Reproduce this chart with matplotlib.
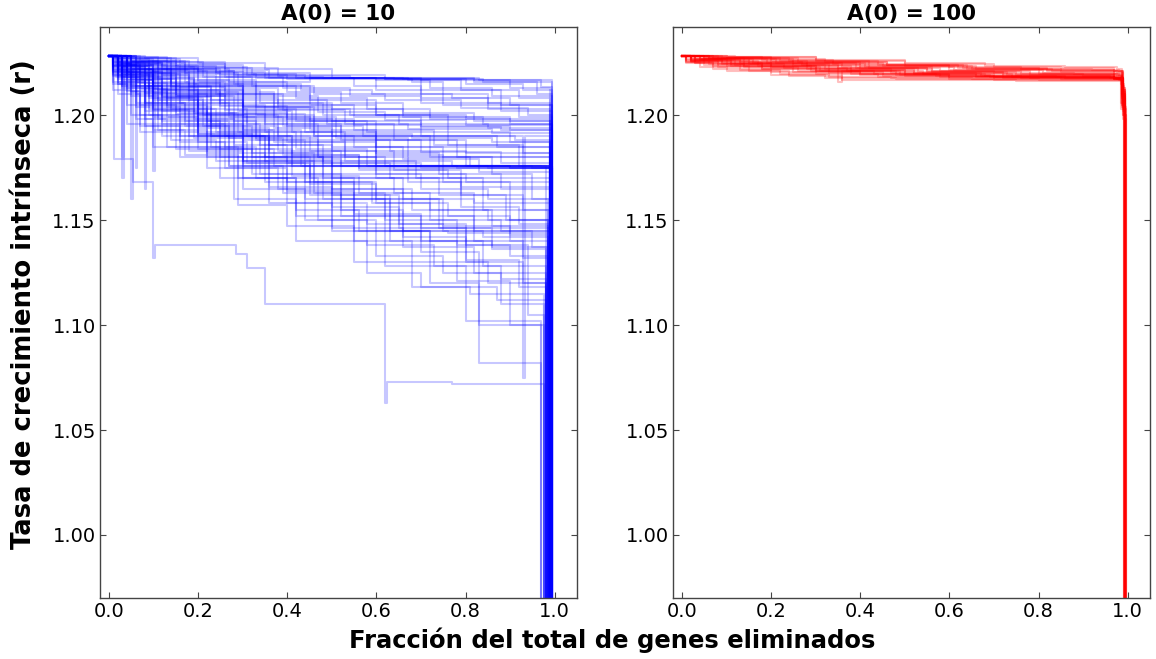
import matplotlib
matplotlib.use("Agg")
import matplotlib.pyplot as plt

# ---------------- data ----------------
titles = ["A(0) = 10", "A(0) = 100"]
x_label = "Fracción del total de genes eliminados"
y_label = "Tasa de crecimiento intrínseca (r)"
x_ticks = [0.0, 0.2, 0.4, 0.6, 0.8, 1.0]
y_ticks = [1.00, 1.05, 1.10, 1.15, 1.20]

# A(0) = 10 : step traces, (fraction removed, r) breakpoints; last point is the final collapse
blue_traces = [
    [(0, 1.228), (0.08, 1.227), (0.2, 1.225), (0.35, 1.222), (0.5, 1.219), (0.62, 1.217), (0.82, 1.216), (0.96, 1.210), (0.995, 0.95)],
    [(0, 1.228), (0.05, 1.226), (0.15, 1.224), (0.3, 1.220), (0.45, 1.2175), (0.65, 1.2175), (0.83, 1.2165), (0.9, 1.213), (0.99, 0.95)],
    [(0, 1.228), (0.03, 1.225), (0.12, 1.222), (0.25, 1.219), (0.4, 1.217), (0.68, 1.216), (0.75, 1.212), (0.88, 1.205), (0.995, 0.95)],
    [(0, 1.228), (0.02, 1.224), (0.1, 1.221), (0.22, 1.218), (0.35, 1.2175), (0.55, 1.214), (0.7, 1.208), (0.85, 1.203), (0.99, 0.95)],
    [(0, 1.228), (0.01, 1.222), (0.03, 1.170), (0.034, 1.219), (0.18, 1.214), (0.3, 1.210), (0.45, 1.205), (0.6, 1.200), (0.8, 1.198), (0.99, 0.95)],
    [(0, 1.228), (0.02, 1.220), (0.1, 1.215), (0.2, 1.209), (0.33, 1.204), (0.5, 1.197), (0.7, 1.195), (0.9, 1.193), (0.995, 0.95)],
    [(0, 1.228), (0.04, 1.221), (0.12, 1.212), (0.25, 1.200), (0.38, 1.190), (0.55, 1.185), (0.75, 1.180), (0.92, 1.176), (0.99, 0.95)],
    [(0, 1.228), (0.015, 1.218), (0.07, 1.205), (0.15, 1.196), (0.26, 1.185), (0.3, 1.176), (0.6, 1.176), (0.85, 1.175), (0.995, 0.95)],
    [(0, 1.228), (0.03, 1.216), (0.09, 1.208), (0.2, 1.198), (0.28, 1.186), (0.4, 1.177), (0.7, 1.175), (0.98, 0.95)],
    [(0, 1.228), (0.02, 1.223), (0.08, 1.214), (0.16, 1.206), (0.3, 1.199), (0.45, 1.193), (0.6, 1.188), (0.8, 1.182), (0.99, 0.95)],
    [(0, 1.228), (0.01, 1.225), (0.05, 1.217), (0.14, 1.203), (0.24, 1.192), (0.36, 1.182), (0.5, 1.172), (0.7, 1.165), (0.85, 1.160), (0.985, 0.95)],
    [(0, 1.228), (0.02, 1.219), (0.11, 1.207), (0.21, 1.195), (0.32, 1.182), (0.46, 1.168), (0.6, 1.158), (0.72, 1.150), (0.88, 1.145), (0.99, 0.95)],
    [(0, 1.228), (0.03, 1.222), (0.1, 1.211), (0.19, 1.201), (0.29, 1.192), (0.42, 1.184), (0.58, 1.176), (0.78, 1.175), (0.995, 0.95)],
    [(0, 1.228), (0.04, 1.218), (0.13, 1.204), (0.23, 1.190), (0.35, 1.178), (0.5, 1.165), (0.66, 1.152), (0.82, 1.140), (0.93, 1.132), (0.985, 0.95)],
    [(0, 1.228), (0.01, 1.212), (0.05, 1.200), (0.12, 1.190), (0.22, 1.180), (0.34, 1.172), (0.52, 1.160), (0.74, 1.146), (0.99, 0.95)],
    [(0, 1.228), (0.02, 1.215), (0.06, 1.206), (0.17, 1.197), (0.27, 1.189), (0.39, 1.181), (0.56, 1.174), (0.76, 1.170), (0.99, 0.95)],
    [(0, 1.228), (0.05, 1.224), (0.13, 1.218), (0.22, 1.212), (0.34, 1.206), (0.48, 1.200), (0.65, 1.196), (0.85, 1.194), (0.995, 0.95)],
    [(0, 1.228), (0.03, 1.227), (0.14, 1.222), (0.27, 1.216), (0.4, 1.211), (0.52, 1.206), (0.66, 1.201), (0.82, 1.197), (0.99, 0.95)],
    [(0, 1.228), (0.06, 1.225), (0.17, 1.220), (0.29, 1.214), (0.42, 1.208), (0.58, 1.203), (0.72, 1.199), (0.9, 1.196), (0.995, 0.95)],
    [(0, 1.228), (0.01, 1.223), (0.04, 1.213), (0.09, 1.200), (0.16, 1.187), (0.26, 1.175), (0.4, 1.164), (0.55, 1.153), (0.7, 1.146), (0.86, 1.137), (0.98, 0.95)],
    [(0, 1.228), (0.012, 1.179), (0.054, 1.168), (0.10, 1.132), (0.103, 1.138), (0.286, 1.134), (0.31, 1.127), (0.35, 1.110), (0.62, 1.063), (0.623, 1.073), (0.77, 1.072), (0.975, 0.95)],
    [(0, 1.228), (0.02, 1.210), (0.07, 1.192), (0.18, 1.183), (0.3, 1.170), (0.42, 1.152), (0.55, 1.140), (0.68, 1.130), (0.85, 1.120), (0.98, 0.95)],
    [(0, 1.228), (0.03, 1.214), (0.12, 1.196), (0.3, 1.178), (0.44, 1.160), (0.62, 1.128), (0.8, 1.102), (0.97, 0.95)],
    [(0, 1.228), (0.02, 1.217), (0.08, 1.202), (0.2, 1.190), (0.36, 1.158), (0.5, 1.145), (0.72, 1.120), (0.83, 1.082), (0.97, 0.95)],
    [(0, 1.228), (0.04, 1.220), (0.15, 1.209), (0.28, 1.197), (0.4, 1.187), (0.6, 1.176), (0.9, 1.175), (0.995, 0.95)],
    [(0, 1.228), (0.02, 1.226), (0.11, 1.220), (0.25, 1.213), (0.38, 1.205), (0.55, 1.199), (0.7, 1.190), (0.87, 1.185), (0.99, 0.95)],
    [(0, 1.228), (0.01, 1.219), (0.06, 1.210), (0.14, 1.200), (0.25, 1.193), (0.37, 1.187), (0.53, 1.178), (0.69, 1.170), (0.84, 1.155), (0.985, 0.95)],
    [(0, 1.228), (0.05, 1.222), (0.16, 1.214), (0.3, 1.204), (0.46, 1.190), (0.6, 1.181), (0.75, 1.168), (0.9, 1.150), (0.99, 0.95)],
    [(0, 1.228), (0.03, 1.218), (0.1, 1.205), (0.23, 1.185), (0.33, 1.170), (0.47, 1.150), (0.6, 1.133), (0.75, 1.125), (0.88, 1.110), (0.975, 0.95)],
    [(0, 1.228), (0.02, 1.221), (0.09, 1.213), (0.2, 1.203), (0.31, 1.196), (0.47, 1.188), (0.63, 1.183), (0.8, 1.176), (0.995, 0.95)],
    [(0, 1.228), (0.01, 1.216), (0.08, 1.198), (0.1, 1.185), (0.25, 1.170), (0.4, 1.158), (0.58, 1.148), (0.75, 1.145), (0.99, 0.95)],
    [(0, 1.228), (0.04, 1.224), (0.1, 1.216), (0.18, 1.207), (0.3, 1.193), (0.43, 1.176), (0.9, 1.175), (0.99, 0.95)],
    [(0, 1.228), (0.07, 1.226), (0.18, 1.223), (0.31, 1.219), (0.44, 1.2175), (0.6, 1.212), (0.75, 1.205), (0.92, 1.199), (0.995, 0.95)],
    [(0, 1.228), (0.02, 1.224), (0.07, 1.217), (0.15, 1.210), (0.27, 1.201), (0.4, 1.195), (0.57, 1.190), (0.73, 1.186), (0.92, 1.180), (0.99, 0.95)],
    [(0, 1.228), (0.03, 1.213), (0.11, 1.193), (0.22, 1.175), (0.38, 1.165), (0.52, 1.155), (0.66, 1.142), (0.8, 1.130), (0.93, 1.120), (0.98, 0.95)],
    [(0, 1.228), (0.01, 1.221), (0.05, 1.211), (0.13, 1.199), (0.2, 1.191), (0.32, 1.180), (0.48, 1.170), (0.64, 1.163), (0.82, 1.158), (0.99, 0.95)],
    [(0, 1.228), (0.04, 1.225), (0.12, 1.219), (0.24, 1.210), (0.37, 1.199), (0.51, 1.189), (0.67, 1.180), (0.81, 1.176), (0.995, 0.95)],
    [(0, 1.228), (0.02, 1.222), (0.1, 1.203), (0.22, 1.182), (0.35, 1.168), (0.5, 1.146), (0.66, 1.137), (0.82, 1.125), (0.98, 0.95)],
    [(0, 1.228), (0.05, 1.227), (0.15, 1.223), (0.26, 1.218), (0.39, 1.213), (0.54, 1.209), (0.7, 1.206), (0.88, 1.202), (0.995, 0.95)],
    [(0, 1.228), (0.03, 1.220), (0.09, 1.209), (0.2, 1.194), (0.36, 1.186), (0.5, 1.176), (0.95, 1.175), (0.995, 0.95)],
    [(0, 1.228), (0.01, 1.224), (0.06, 1.214), (0.16, 1.201), (0.28, 1.184), (0.41, 1.171), (0.56, 1.163), (0.72, 1.155), (0.86, 1.147), (0.985, 0.95)],
    [(0, 1.228), (0.02, 1.218), (0.08, 1.195), (0.27, 1.176), (0.45, 1.162), (0.63, 1.140), (0.78, 1.121), (0.9, 1.100), (0.975, 0.95)],
    [(0, 1.228), (0.06, 1.223), (0.19, 1.215), (0.33, 1.207), (0.49, 1.196), (0.64, 1.188), (0.78, 1.185), (0.99, 0.95)],
    [(0, 1.228), (0.03, 1.226), (0.13, 1.221), (0.28, 1.215), (0.43, 1.212), (0.59, 1.210), (0.77, 1.208), (0.9, 1.205), (0.995, 0.95)],
    [(0, 1.228), (0.01, 1.215), (0.04, 1.196), (0.15, 1.184), (0.28, 1.160), (0.42, 1.140), (0.58, 1.125), (0.7, 1.118), (0.87, 1.112), (0.98, 0.95)],
    [(0, 1.228), (0.02, 1.225), (0.05, 1.160), (0.053, 1.222), (0.2, 1.216), (0.45, 1.2175), (0.7, 1.2165), (0.995, 0.95)],
    [(0, 1.228), (0.03, 1.223), (0.08, 1.165), (0.083, 1.214), (0.3, 1.198), (0.5, 1.190), (0.93, 1.075), (0.933, 1.190), (0.99, 0.95)],
    [(0, 1.228), (0.04, 1.222), (0.14, 1.210), (0.26, 1.190), (0.41, 1.176), (0.98, 1.175), (0.992, 0.95)],
    [(0, 1.228), (0.03, 1.2265), (0.09, 1.224), (0.16, 1.222), (0.24, 1.2195), (0.33, 1.2178), (0.5, 1.2175), (0.64, 1.2172), (0.8, 1.215), (0.93, 1.212), (0.995, 0.95)],
    [(0, 1.228), (0.02, 1.227), (0.06, 1.2255), (0.12, 1.2235), (0.2, 1.221), (0.28, 1.219), (0.36, 1.2177), (0.62, 1.2174), (0.7, 1.210), (0.85, 1.206), (0.99, 0.95)],
    [(0, 1.228), (0.01, 1.226), (0.04, 1.2235), (0.09, 1.2205), (0.17, 1.216), (0.26, 1.211), (0.37, 1.206), (0.5, 1.203), (0.66, 1.199), (0.84, 1.196), (0.995, 0.95)],
    [(0, 1.228), (0.015, 1.2245), (0.05, 1.219), (0.1, 1.2125), (0.18, 1.206), (0.27, 1.199), (0.39, 1.195), (0.52, 1.191), (0.68, 1.189), (0.86, 1.187), (0.99, 0.95)],
    [(0, 1.228), (0.02, 1.2215), (0.06, 1.2155), (0.13, 1.208), (0.21, 1.200), (0.31, 1.190), (0.45, 1.183), (0.6, 1.178), (0.77, 1.176), (0.995, 0.95)],
    [(0, 1.228), (0.01, 1.2205), (0.03, 1.214), (0.08, 1.206), (0.17, 1.195), (0.25, 1.184), (0.37, 1.176), (0.99, 0.95)],
    [(0, 1.228), (0.025, 1.225), (0.07, 1.220), (0.14, 1.2135), (0.23, 1.207), (0.33, 1.200), (0.46, 1.190), (0.6, 1.182), (0.74, 1.172), (0.88, 1.165), (0.99, 0.95)],
    [(0, 1.228), (0.03, 1.2235), (0.1, 1.2175), (0.19, 1.211), (0.29, 1.202), (0.41, 1.192), (0.53, 1.180), (0.67, 1.168), (0.79, 1.156), (0.92, 1.148), (0.985, 0.95)],
    [(0, 1.228), (0.01, 1.2195), (0.05, 1.209), (0.11, 1.198), (0.2, 1.187), (0.31, 1.177), (0.44, 1.168), (0.59, 1.158), (0.76, 1.152), (0.9, 1.143), (0.985, 0.95)],
    [(0, 1.228), (0.02, 1.216), (0.07, 1.200), (0.14, 1.188), (0.24, 1.178), (0.36, 1.166), (0.5, 1.156), (0.65, 1.146), (0.8, 1.138), (0.94, 1.128), (0.98, 0.95)],
    [(0, 1.228), (0.04, 1.2205), (0.12, 1.2085), (0.23, 1.196), (0.34, 1.186), (0.48, 1.177), (0.63, 1.170), (0.79, 1.166), (0.99, 0.95)],
    [(0, 1.228), (0.01, 1.2235), (0.04, 1.2165), (0.1, 1.208), (0.19, 1.198), (0.3, 1.188), (0.44, 1.178), (0.6, 1.172), (0.8, 1.168), (0.99, 0.95)],
    [(0, 1.228), (0.05, 1.2255), (0.11, 1.222), (0.21, 1.218), (0.32, 1.214), (0.46, 1.210), (0.62, 1.207), (0.79, 1.2035), (0.94, 1.200), (0.995, 0.95)],
    [(0, 1.228), (0.03, 1.2275), (0.11, 1.2255), (0.21, 1.2225), (0.32, 1.2195), (0.42, 1.2176), (0.66, 1.2172), (0.84, 1.216), (0.995, 0.95)],
    [(0, 1.228), (0.02, 1.2245), (0.08, 1.2195), (0.16, 1.2135), (0.26, 1.208), (0.38, 1.203), (0.54, 1.200), (0.72, 1.198), (0.9, 1.197), (0.995, 0.95)],
    [(0, 1.228), (0.01, 1.2185), (0.04, 1.205), (0.1, 1.193), (0.17, 1.181), (0.29, 1.170), (0.42, 1.155), (0.56, 1.145), (0.72, 1.140), (0.86, 1.136), (0.98, 0.95)],
    [(0, 1.228), (0.03, 1.2195), (0.08, 1.2105), (0.15, 1.2005), (0.23, 1.190), (0.36, 1.179), (0.52, 1.165), (0.68, 1.155), (0.85, 1.150), (0.985, 0.95)],
    [(0, 1.228), (0.02, 1.2225), (0.07, 1.2125), (0.13, 1.205), (0.22, 1.197), (0.33, 1.188), (0.47, 1.180), (0.62, 1.176), (0.995, 0.95)],
    [(0, 1.228), (0.01, 1.2255), (0.03, 1.2205), (0.07, 1.2155), (0.15, 1.209), (0.26, 1.2025), (0.4, 1.197), (0.55, 1.193), (0.73, 1.190), (0.91, 1.188), (0.99, 0.95)],
    [(0, 1.228), (0.04, 1.219), (0.09, 1.203), (0.19, 1.189), (0.3, 1.180), (0.45, 1.170), (0.55, 1.145), (0.7, 1.135), (0.83, 1.100), (0.97, 0.95)],
    [(0, 1.228), (0.02, 1.215), (0.06, 1.198), (0.13, 1.185), (0.29, 1.157), (0.4, 1.147), (0.55, 1.130), (0.68, 1.118), (0.81, 1.115), (0.975, 0.95)],
    [(0, 1.228), (0.03, 1.2215), (0.1, 1.207), (0.2, 1.191), (0.34, 1.180), (0.48, 1.160), (0.63, 1.145), (0.76, 1.144), (0.99, 0.95)],
    [(0, 1.228), (0.01, 1.227), (0.05, 1.2255), (0.14, 1.2235), (0.24, 1.2205), (0.35, 1.2180), (0.48, 1.2176), (0.6, 1.2165), (0.72, 1.213), (0.86, 1.209), (0.995, 0.95)],
    [(0, 1.228), (0.06, 1.2268), (0.16, 1.2245), (0.26, 1.2215), (0.36, 1.219), (0.5, 1.2178), (0.72, 1.2176), (0.82, 1.2165), (0.97, 1.2135), (0.995, 0.95)],
    [(0, 1.228), (0.02, 1.2255), (0.09, 1.2215), (0.18, 1.2165), (0.27, 1.210), (0.39, 1.2025), (0.53, 1.196), (0.67, 1.1935), (0.86, 1.1915), (0.995, 0.95)],
    [(0, 1.228), (0.01, 1.224), (0.06, 1.2165), (0.12, 1.209), (0.2, 1.200), (0.3, 1.190), (0.41, 1.181), (0.56, 1.175), (0.99, 0.95)],
    [(0, 1.228), (0.03, 1.2205), (0.11, 1.212), (0.22, 1.2005), (0.35, 1.192), (0.5, 1.185), (0.66, 1.179), (0.83, 1.173), (0.99, 0.95)],
    [(0, 1.228), (0.02, 1.219), (0.05, 1.2115), (0.1, 1.2025), (0.18, 1.190), (0.27, 1.176), (0.39, 1.163), (0.52, 1.152), (0.66, 1.145), (0.84, 1.142), (0.985, 0.95)],
    [(0, 1.228), (0.05, 1.2235), (0.14, 1.2155), (0.25, 1.206), (0.37, 1.194), (0.5, 1.183), (0.64, 1.174), (0.79, 1.162), (0.93, 1.155), (0.99, 0.95)],
    [(0, 1.228), (0.01, 1.2215), (0.04, 1.2115), (0.07, 1.195), (0.16, 1.180), (0.3, 1.165), (0.44, 1.150), (0.58, 1.138), (0.73, 1.128), (0.88, 1.122), (0.98, 0.95)],
    [(0, 1.228), (0.04, 1.2275), (0.13, 1.2255), (0.26, 1.2225), (0.38, 1.2185), (0.54, 1.2177), (0.67, 1.2165), (0.79, 1.212), (0.92, 1.208), (0.99, 0.95)],
    [(0, 1.228), (0.02, 1.2235), (0.07, 1.2185), (0.15, 1.211), (0.25, 1.2045), (0.4, 1.198), (0.55, 1.1955), (0.7, 1.1945), (0.88, 1.193), (0.995, 0.95)],
    [(0, 1.228), (0.01, 1.2265), (0.03, 1.180), (0.033, 1.2245), (0.11, 1.217), (0.19, 1.210), (0.3, 1.2005), (0.44, 1.192), (0.6, 1.185), (0.78, 1.180), (0.99, 0.95)],
    [(0, 1.228), (0.03, 1.2255), (0.06, 1.175), (0.063, 1.222), (0.14, 1.214), (0.23, 1.205), (0.35, 1.196), (0.52, 1.188), (0.7, 1.1825), (0.88, 1.177), (0.99, 0.95)],
    [(0, 1.228), (0.02, 1.2265), (0.1, 1.1735), (0.103, 1.2225), (0.2, 1.2165), (0.33, 1.209), (0.47, 1.2015), (0.62, 1.1975), (0.8, 1.1955), (0.995, 0.95)],
    [(0, 1.228), (0.02, 1.2205), (0.08, 1.206), (0.18, 1.192), (0.3, 1.178), (0.46, 1.163), (0.62, 1.150), (0.78, 1.138), (0.9, 1.133), (0.985, 0.95)],
    [(0, 1.228), (0.03, 1.218), (0.12, 1.197), (0.25, 1.180), (0.4, 1.168), (0.55, 1.152), (0.7, 1.140), (0.84, 1.128), (0.94, 1.105), (0.975, 0.95)],
    [(0, 1.228), (0.01, 1.2205), (0.06, 1.204), (0.16, 1.190), (0.3, 1.177), (0.45, 1.167), (0.6, 1.160), (0.75, 1.147), (0.9, 1.140), (0.985, 0.95)],
    [(0, 1.228), (0.04, 1.2245), (0.15, 1.215), (0.3, 1.204), (0.45, 1.197), (0.6, 1.190), (0.72, 1.180), (0.86, 1.172), (0.95, 1.160), (0.99, 0.95)],
    [(0, 1.228), (0.02, 1.222), (0.1, 1.210), (0.22, 1.195), (0.38, 1.183), (0.52, 1.176), (0.97, 1.1755), (0.995, 0.95)],
    [(0, 1.228), (0.03, 1.2165), (0.1, 1.199), (0.2, 1.184), (0.32, 1.172), (0.5, 1.162), (0.65, 1.148), (0.8, 1.131), (0.92, 1.118), (0.98, 0.95)],
    [(0, 1.228), (0.05, 1.2258), (0.17, 1.2205), (0.3, 1.214), (0.45, 1.207), (0.6, 1.200), (0.76, 1.192), (0.9, 1.187), (0.99, 0.95)],
    [(0, 1.228), (0.01, 1.2235), (0.05, 1.214), (0.12, 1.202), (0.22, 1.190), (0.35, 1.180), (0.5, 1.170), (0.66, 1.160), (0.82, 1.145), (0.95, 1.137), (0.985, 0.95)],
    [(0, 1.228), (0.02, 1.2255), (0.08, 1.220), (0.18, 1.212), (0.3, 1.203), (0.42, 1.197), (0.58, 1.192), (0.76, 1.186), (0.93, 1.182), (0.995, 0.95)],
    [(0, 1.228), (0.03, 1.2235), (0.09, 1.212), (0.2, 1.199), (0.33, 1.189), (0.47, 1.180), (0.6, 1.170), (0.74, 1.162), (0.89, 1.150), (0.985, 0.95)],
]

# A(0) = 100 : step traces
red_traces = [
    [(0, 1.228), (0.1, 1.2275), (0.3, 1.226), (0.5, 1.2245), (0.7, 1.223), (0.85, 1.2225), (0.97, 1.221), (0.988, 1.212), (0.993, 0.95)],
    [(0, 1.228), (0.05, 1.227), (0.2, 1.2255), (0.4, 1.2235), (0.6, 1.2215), (0.8, 1.2195), (0.98, 1.218), (0.99, 1.205), (0.995, 0.95)],
    [(0, 1.228), (0.02, 1.226), (0.15, 1.2245), (0.35, 1.2225), (0.55, 1.2205), (0.75, 1.219), (0.97, 1.2175), (0.987, 1.208), (0.992, 0.95)],
    [(0, 1.228), (0.01, 1.2265), (0.1, 1.2235), (0.3, 1.2215), (0.5, 1.2195), (0.7, 1.218), (0.97, 1.2175), (0.99, 1.200), (0.996, 0.95)],
    [(0, 1.228), (0.03, 1.225), (0.18, 1.222), (0.38, 1.2195), (0.6, 1.218), (0.85, 1.2172), (0.98, 1.2168), (0.988, 1.210), (0.994, 0.95)],
    [(0, 1.228), (0.08, 1.2268), (0.25, 1.2250), (0.45, 1.2232), (0.65, 1.2218), (0.85, 1.2205), (0.97, 1.2195), (0.985, 1.215), (0.991, 0.95)],
    [(0, 1.228), (0.02, 1.2262), (0.12, 1.2240), (0.32, 1.2220), (0.52, 1.2200), (0.72, 1.2185), (0.96, 1.2175), (0.989, 1.207), (0.995, 0.95)],
    [(0, 1.228), (0.06, 1.2272), (0.22, 1.2258), (0.42, 1.2240), (0.62, 1.2225), (0.82, 1.2215), (0.97, 1.2208), (0.99, 1.211), (0.994, 0.95)],
    [(0, 1.228), (0.01, 1.2255), (0.08, 1.2230), (0.25, 1.2205), (0.45, 1.2188), (0.7, 1.2178), (0.97, 1.2172), (0.986, 1.203), (0.993, 0.95)],
    [(0, 1.228), (0.04, 1.2268), (0.16, 1.2248), (0.36, 1.2228), (0.56, 1.2210), (0.76, 1.2195), (0.97, 1.2185), (0.988, 1.209), (0.995, 0.95)],
    [(0, 1.228), (0.02, 1.2258), (0.14, 1.2236), (0.3, 1.2212), (0.48, 1.2192), (0.66, 1.2180), (0.97, 1.2176), (0.99, 1.204), (0.996, 0.95)],
    [(0, 1.228), (0.12, 1.2276), (0.3, 1.2262), (0.5, 1.2248), (0.68, 1.2236), (0.86, 1.2228), (0.975, 1.2222), (0.987, 1.214), (0.992, 0.95)],
    [(0, 1.228), (0.03, 1.2250), (0.2, 1.2225), (0.33, 1.2200), (0.5, 1.2185), (0.72, 1.2175), (0.98, 1.2170), (0.989, 1.206), (0.994, 0.95)],
    [(0, 1.228), (0.07, 1.2266), (0.19, 1.2246), (0.39, 1.2226), (0.58, 1.2208), (0.78, 1.2192), (0.97, 1.2180), (0.988, 1.210), (0.993, 0.95)],
    [(0, 1.228), (0.01, 1.2262), (0.09, 1.2242), (0.28, 1.2222), (0.47, 1.2203), (0.67, 1.2186), (0.97, 1.2178), (0.99, 1.202), (0.995, 0.95)],
    [(0, 1.228), (0.05, 1.2260), (0.17, 1.2232), (0.35, 1.2160), (0.36, 1.2212), (0.54, 1.2195), (0.74, 1.2182), (0.97, 1.2174), (0.987, 1.205), (0.994, 0.95)],
    [(0, 1.228), (0.02, 1.2270), (0.26, 1.2254), (0.46, 1.2237), (0.64, 1.2222), (0.83, 1.2210), (0.97, 1.2202), (0.989, 1.212), (0.993, 0.95)],
    [(0, 1.228), (0.01, 1.2250), (0.07, 1.2222), (0.2, 1.2205), (0.4, 1.2190), (0.6, 1.2180), (0.97, 1.2172), (0.986, 1.206), (0.992, 0.95)],
    [(0, 1.228), (0.04, 1.2264), (0.13, 1.2244), (0.33, 1.2224), (0.53, 1.2206), (0.73, 1.2190), (0.97, 1.2178), (0.99, 1.208), (0.995, 0.95)],
    [(0, 1.228), (0.09, 1.2273), (0.24, 1.2257), (0.44, 1.2241), (0.63, 1.2226), (0.8, 1.2216), (0.97, 1.2210), (0.988, 1.213), (0.994, 0.95)],
    [(0, 1.228), (0.02, 1.2256), (0.11, 1.2232), (0.29, 1.2210), (0.49, 1.2192), (0.69, 1.2180), (0.97, 1.2174), (0.989, 1.203), (0.996, 0.95)],
    [(0, 1.228), (0.06, 1.2266), (0.21, 1.2250), (0.41, 1.2230), (0.61, 1.2214), (0.81, 1.2200), (0.97, 1.2190), (0.987, 1.209), (0.993, 0.95)],
    [(0, 1.228), (0.03, 1.2262), (0.08, 1.2245), (0.18, 1.2220), (0.3, 1.2195), (0.44, 1.2180), (0.6, 1.2172), (0.8, 1.2168), (0.975, 1.2166), (0.987, 1.204), (0.994, 0.95)],
    [(0, 1.228), (0.02, 1.2255), (0.07, 1.2232), (0.15, 1.2210), (0.24, 1.2185), (0.36, 1.2168), (0.5, 1.2165), (0.75, 1.2164), (0.975, 1.2163), (0.99, 1.200), (0.996, 0.95)],
    [(0, 1.228), (0.05, 1.2272), (0.15, 1.2255), (0.27, 1.2238), (0.4, 1.2222), (0.56, 1.2205), (0.72, 1.2195), (0.9, 1.2188), (0.975, 1.2185), (0.988, 1.210), (0.993, 0.95)],
    [(0, 1.228), (0.1, 1.2278), (0.2, 1.2268), (0.32, 1.2252), (0.46, 1.2238), (0.6, 1.2228), (0.76, 1.2220), (0.92, 1.2215), (0.98, 1.2210), (0.99, 1.212), (0.995, 0.95)],
    [(0, 1.228), (0.01, 1.2258), (0.05, 1.2238), (0.13, 1.2215), (0.22, 1.2195), (0.33, 1.2182), (0.47, 1.2175), (0.65, 1.2172), (0.98, 1.2170), (0.988, 1.205), (0.994, 0.95)],
    [(0, 1.228), (0.04, 1.2265), (0.11, 1.2245), (0.23, 1.2225), (0.37, 1.2208), (0.52, 1.2194), (0.68, 1.2184), (0.86, 1.2178), (0.975, 1.2176), (0.989, 1.207), (0.995, 0.95)],
    [(0, 1.228), (0.02, 1.2268), (0.09, 1.2250), (0.2, 1.2230), (0.31, 1.2210), (0.43, 1.2195), (0.58, 1.2183), (0.78, 1.2176), (0.975, 1.2174), (0.987, 1.206), (0.993, 0.95)],
    [(0, 1.228), (0.07, 1.2275), (0.18, 1.2262), (0.34, 1.2245), (0.5, 1.2232), (0.66, 1.2220), (0.82, 1.2212), (0.975, 1.2205), (0.99, 1.213), (0.994, 0.95)],
    [(0, 1.228), (0.01, 1.2252), (0.04, 1.2228), (0.1, 1.2208), (0.2, 1.2192), (0.32, 1.2178), (0.48, 1.2172), (0.7, 1.2168), (0.975, 1.2166), (0.99, 1.198), (0.996, 0.95)],
    [(0, 1.228), (0.03, 1.2268), (0.13, 1.2252), (0.25, 1.2234), (0.38, 1.2215), (0.5, 1.2200), (0.66, 1.2188), (0.84, 1.2180), (0.975, 1.2177), (0.988, 1.208), (0.994, 0.95)],
    [(0, 1.228), (0.02, 1.2262), (0.06, 1.2245), (0.14, 1.2228), (0.26, 1.2212), (0.4, 1.2197), (0.57, 1.2185), (0.76, 1.2177), (0.975, 1.2172), (0.989, 1.204), (0.995, 0.95)],
    [(0, 1.228), (0.06, 1.2270), (0.14, 1.2258), (0.28, 1.2240), (0.42, 1.2224), (0.55, 1.2212), (0.7, 1.2202), (0.88, 1.2194), (0.975, 1.2190), (0.988, 1.211), (0.993, 0.95)],
]

# ---------------- figure ----------------
plt.rcParams["font.family"] = ["DejaVu Sans"]
fig = plt.figure(figsize=(11.56, 6.59), dpi=100)
ax_l = fig.add_axes([0.0865, 0.0926, 0.4126, 0.8665])
ax_r = fig.add_axes([0.5822, 0.0926, 0.4126, 0.8665])

for tr in blue_traces:
    xs = [p[0] for p in tr]
    ys = [p[1] for p in tr]
    ax_l.step(xs, ys, where="post", color="blue", alpha=0.22, lw=1.5)

for tr in red_traces:
    xs = [p[0] for p in tr]
    ys = [p[1] for p in tr]
    ax_r.step(xs, ys, where="post", color="red", alpha=0.25, lw=1.5)

for ax, title in zip([ax_l, ax_r], titles):
    ax.set_xlim(-0.02, 1.05)
    ax.set_ylim(0.97, 1.242)
    ax.set_xticks(x_ticks)
    ax.set_yticks(y_ticks)
    ax.set_xticklabels([f"{v:.1f}" for v in x_ticks])
    ax.set_yticklabels([f"{v:.2f}" for v in y_ticks])
    ax.tick_params(direction="in", top=True, right=True, length=4, width=0.8,
                   labelsize=14, pad=3, color="#444444")
    for sp in ax.spines.values():
        sp.set_color("#444444")
        sp.set_linewidth(1.0)
    ax.set_title(title, fontsize=15.5, fontweight="bold", pad=5)

fig.text(0.021, 0.538, y_label, rotation=90, ha="center", va="center",
         fontsize=18.6, fontweight="bold")
fig.text(0.53, 0.028, x_label, ha="center", va="center",
         fontsize=17.5, fontweight="bold")

fig.savefig("out.png", dpi=100)
